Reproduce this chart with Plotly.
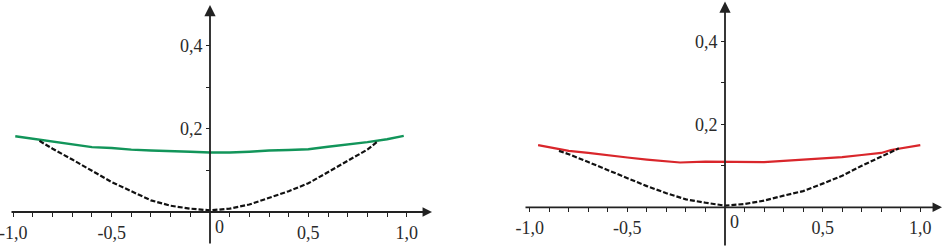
import plotly.graph_objects as go

# ---------------- data ----------------
green_x = [-0.99, -0.9, -0.8, -0.7, -0.6, -0.5, -0.4, -0.3, -0.2, -0.1, 0.0,
           0.1, 0.2, 0.3, 0.4, 0.5, 0.6, 0.7, 0.8, 0.9, 0.985]
green_y = [0.182, 0.176, 0.168, 0.162, 0.156, 0.154, 0.150, 0.148, 0.147, 0.145, 0.143,
           0.143, 0.145, 0.148, 0.149, 0.151, 0.157, 0.162, 0.168, 0.175, 0.183]

left_dash_x = [-0.867, -0.8, -0.7, -0.6, -0.5, -0.4, -0.3, -0.2, -0.1, 0.0,
               0.1, 0.2, 0.3, 0.4, 0.5, 0.6, 0.7, 0.8, 0.856]
left_dash_y = [0.171, 0.152, 0.126, 0.098, 0.072, 0.050, 0.028, 0.015, 0.008, 0.004,
               0.008, 0.018, 0.034, 0.050, 0.069, 0.096, 0.125, 0.150, 0.171]

red_x = [-0.957, -0.9, -0.85, -0.8, -0.7, -0.6, -0.5, -0.4, -0.3, -0.23, -0.1, 0.0,
         0.1, 0.2, 0.3, 0.4, 0.5, 0.6, 0.7, 0.8, 0.85, 0.9, 1.0]
red_y = [0.150, 0.145, 0.139, 0.136, 0.131, 0.125, 0.120, 0.115, 0.111, 0.108, 0.110, 0.110,
         0.109, 0.109, 0.112, 0.115, 0.118, 0.121, 0.126, 0.131, 0.138, 0.142, 0.150]

right_dash_x = [-0.85, -0.8, -0.7, -0.6, -0.5, -0.4, -0.3, -0.2, -0.1, 0.0,
                0.1, 0.2, 0.3, 0.4, 0.5, 0.6, 0.7, 0.8, 0.89]
right_dash_y = [0.136, 0.128, 0.109, 0.089, 0.070, 0.051, 0.034, 0.019, 0.011, 0.004,
                0.008, 0.016, 0.028, 0.039, 0.057, 0.076, 0.100, 0.123, 0.142]

x_tick_values = [-1.0, -0.9, -0.8, -0.7, -0.6, -0.5, -0.4, -0.3, -0.2, -0.1,
                 0.1, 0.2, 0.3, 0.4, 0.5, 0.6, 0.7, 0.8, 0.9, 1.0]
x_tick_labels = ["-1,0", "", "", "", "", "-0,5", "", "", "", "",
                 "", "", "", "", "0,5", "", "", "", "", "1,0"]
y_tick_values = [0.1, 0.2, 0.3, 0.4]
y_tick_labels = ["", "0,2", "", "0,4"]
origin_label = "0"

# ---------------- layout helpers ----------------
W, H = 945, 247
FONT = dict(family="'Liberation Serif', 'Times New Roman', serif", size=18, color="#2a2a2a")
AXC = "#222222"

# pixel geometry of each panel: domain, origin pixel, px per unit
panels = [
    dict(dom=(0, 470), ox=210, oy=212, sx=196.7, sy=416,
         xt=(10, 432), yt=(245, 5), xa="x", ya="y"),
    dict(dom=(475, 945), ox=725, oy=207.3, sx=195.3, sy=415,
         xt=(524, 942), yt=(247, 1.5), xa="x2", ya="y2"),
]

fig = go.Figure()
fig.add_trace(go.Scatter(x=green_x, y=green_y, mode="lines",
                         line=dict(color="#12955a", width=2.4), xaxis="x", yaxis="y"))
fig.add_trace(go.Scatter(x=left_dash_x, y=left_dash_y, mode="lines",
                         line=dict(color="#111111", width=2.2, dash="5px,2px"), xaxis="x", yaxis="y"))
fig.add_trace(go.Scatter(x=red_x, y=red_y, mode="lines",
                         line=dict(color="#d9262b", width=2.2), xaxis="x2", yaxis="y2"))
fig.add_trace(go.Scatter(x=right_dash_x, y=right_dash_y, mode="lines",
                         line=dict(color="#111111", width=2.2, dash="5px,2px"), xaxis="x2", yaxis="y2"))

layout = dict(width=W, height=H, margin=dict(l=0, r=0, t=0, b=0),
              paper_bgcolor="white", plot_bgcolor="white", showlegend=False, font=FONT)
annotations = []
for i, p in enumerate(panels):
    sfx = "" if i == 0 else str(i + 1)
    x0, x1 = p["dom"]
    xr = [(x0 - p["ox"]) / p["sx"], (x1 - p["ox"]) / p["sx"]]
    yr = [-(H - p["oy"]) / p["sy"], p["oy"] / p["sy"]]
    layout["xaxis" + sfx] = dict(
        domain=[x0 / W, x1 / W], range=xr, anchor="free", position=1 - p["oy"] / H,
        tickmode="array", tickvals=x_tick_values, ticktext=x_tick_labels,
        ticks="outside", ticklen=4, tickwidth=1.2, tickcolor=AXC, ticklabeloverflow="allow",
        showline=False, showgrid=False, zeroline=False, tickfont=FONT, fixedrange=True)
    layout["yaxis" + sfx] = dict(
        domain=[0, 1], range=yr, anchor="free", position=p["ox"] / W,
        tickmode="array", tickvals=y_tick_values, ticktext=y_tick_labels,
        ticks="outside", ticklen=4, tickwidth=1.2, tickcolor=AXC, ticklabeloverflow="allow",
        showline=False, showgrid=False, zeroline=False, tickfont=FONT, fixedrange=True)
    # axis lines with arrowheads
    annotations.append(dict(
        x=(p["xt"][1] - p["ox"]) / p["sx"], y=0, ax=(p["xt"][0] - p["ox"]) / p["sx"], ay=0,
        xref=p["xa"], yref=p["ya"], axref=p["xa"], ayref=p["ya"], text="",
        showarrow=True, arrowhead=2, arrowsize=1.05, arrowwidth=1.8, arrowcolor=AXC, standoff=0))
    annotations.append(dict(
        x=0, y=(p["oy"] - p["yt"][1]) / p["sy"], ax=0, ay=(p["oy"] - p["yt"][0]) / p["sy"],
        xref=p["xa"], yref=p["ya"], axref=p["xa"], ayref=p["ya"], text="",
        showarrow=True, arrowhead=2, arrowsize=1.25, arrowwidth=1.8, arrowcolor=AXC, standoff=0))
    annotations.append(dict(
        x=0, y=0, xref=p["xa"], yref=p["ya"], text=origin_label, showarrow=False,
        xanchor="left", yanchor="top", xshift=3, yshift=-3, font=FONT))
layout["annotations"] = annotations
fig.update_layout(**layout)
fig.write_html("out.html", config={"displayModeBar": False},
               post_script="document.body.style.margin='0';document.body.style.overflow='hidden';")
